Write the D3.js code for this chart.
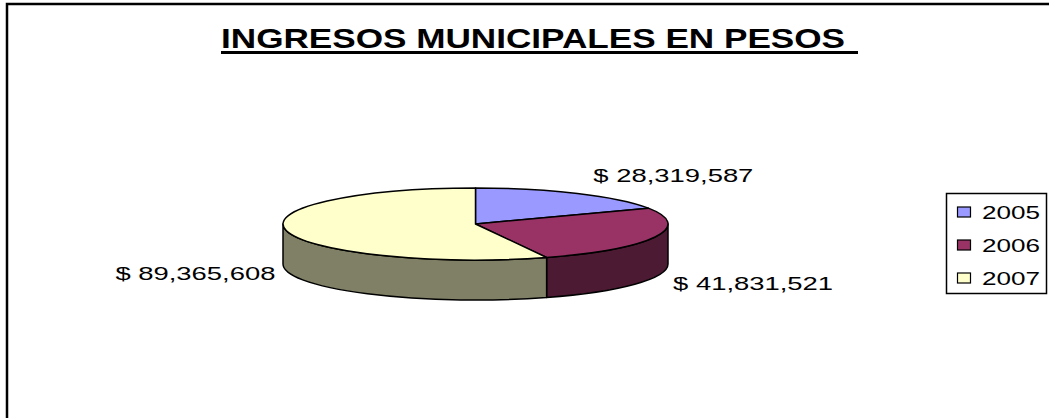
<!DOCTYPE html>
<html>
<head>
<meta charset="utf-8">
<script src="https://cdn.jsdelivr.net/npm/d3@7.9.0/dist/d3.min.js"></script>
<style>
  body { margin: 0; background: #fff; }
  svg { display: block; }
  text { font-family: Arial, "Liberation Sans", sans-serif; fill: #000; }
</style>
</head>
<body>
<svg width="1049" height="418"></svg>
<script>
// data
const years = ['2005', '2006', '2007'];
const ingresos = [28319587, 41831521, 89365608];
const topColors = ['#9999FF', '#993366', '#FFFFCC'];
const sideColors = ['#4D4D80', '#4D1A33', '#808066'];
const title = 'INGRESOS MUNICIPALES EN PESOS';

const svg = d3.select('svg');

// chart area border, cut off on the right and bottom
svg.append('path')
  .attr('d', 'M7,440 V4 H1070')
  .attr('fill', 'none')
  .attr('stroke', '#000')
  .attr('stroke-width', 2.5);

// title with underline
svg.append('text')
  .attr('x', 221).attr('y', 48)
  .attr('font-size', 28).attr('font-weight', 'bold')
  .attr('textLength', 624).attr('lengthAdjust', 'spacingAndGlyphs')
  .text(title);
svg.append('line')
  .attr('x1', 221).attr('x2', 858)
  .attr('y1', 52.5).attr('y2', 52.5)
  .attr('stroke', '#000').attr('stroke-width', 3);

// 3d pie
const cx = 475.5, cy = 224, rx = 192.5, ry = 36, depth = 40;
const pt = (a, dy = 0) => [cx + rx * Math.sin(a), cy - ry * Math.cos(a) + dy];

const data = years.map((y, i) => ({ year: y, value: ingresos[i], i }));
const arcs = d3.pie().sort(null).value(d => d.value)(data);

const pie = svg.append('g')
  .attr('stroke', '#000')
  .attr('stroke-width', 1.5)
  .attr('stroke-linejoin', 'round');

// side walls (front half only)
arcs.forEach(d => {
  const a0 = Math.max(d.startAngle, Math.PI / 2);
  const a1 = Math.min(d.endAngle, 3 * Math.PI / 2);
  if (a0 >= a1) return;
  const p0 = pt(a0), p1 = pt(a1), q1 = pt(a1, depth), q0 = pt(a0, depth);
  pie.append('path')
    .attr('d', `M${p0} A${rx},${ry} 0 0 1 ${p1} L${q1} A${rx},${ry} 0 0 0 ${q0} Z`)
    .attr('fill', sideColors[d.data.i]);
});

// top faces
arcs.forEach(d => {
  const p0 = pt(d.startAngle), p1 = pt(d.endAngle);
  const large = d.endAngle - d.startAngle > Math.PI ? 1 : 0;
  pie.append('path')
    .attr('d', `M${cx},${cy} L${p0} A${rx},${ry} 0 ${large} 1 ${p1} Z`)
    .attr('fill', topColors[d.data.i]);
});

// data labels, placed off each slice's mid angle
const labelOffsets = [[16, -11, 'start'], [18, 53, 'start'], [-11, 49, 'end']];
const fmt = d3.format(',');
arcs.forEach(d => {
  const mid = (d.startAngle + d.endAngle) / 2;
  const p = pt(mid);
  const [dx, dy, anchor] = labelOffsets[d.data.i];
  svg.append('text')
    .attr('x', p[0] + dx).attr('y', p[1] + dy)
    .attr('text-anchor', anchor)
    .attr('font-size', 18.5)
    .attr('textLength', 160).attr('lengthAdjust', 'spacingAndGlyphs')
    .text('$ ' + fmt(d.value));
});

// legend
const legendY = d3.scalePoint().domain(years).range([212, 278]);
svg.append('rect')
  .attr('x', 946.5).attr('y', 193.5)
  .attr('width', 100).attr('height', 100)
  .attr('fill', '#fff').attr('stroke', '#000').attr('stroke-width', 1.5);

const items = svg.append('g').selectAll('g')
  .data(data).join('g')
  .attr('transform', d => `translate(0,${legendY(d.year)})`);
items.append('rect')
  .attr('x', 957.5).attr('y', -5)
  .attr('width', 13).attr('height', 10)
  .attr('fill', d => topColors[d.i])
  .attr('stroke', '#000').attr('stroke-width', 1.2);
items.append('text')
  .attr('x', 982).attr('y', 6.5)
  .attr('font-size', 17.5)
  .attr('textLength', 58).attr('lengthAdjust', 'spacingAndGlyphs')
  .text(d => d.year);
</script>
</body>
</html>
